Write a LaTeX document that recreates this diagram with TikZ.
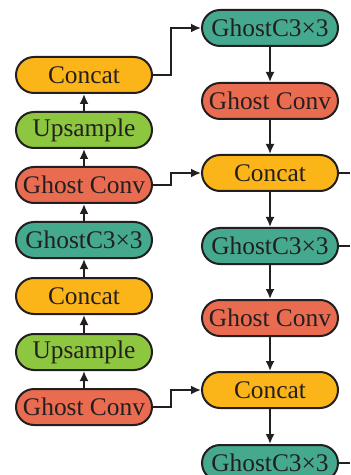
\documentclass[tikz,border=0pt]{standalone}
\usepackage{fontspec}
\setmainfont{Liberation Serif}
\usetikzlibrary{arrows.meta,positioning,calc}
\definecolor{concatcol}{HTML}{FBB519}
\definecolor{upcol}{HTML}{8DC63F}
\definecolor{convcol}{HTML}{E96C50}
\definecolor{c3col}{HTML}{45A98F}
\definecolor{inkcol}{HTML}{231F20}
\tikzset{
  blockbox/.style={draw=inkcol, line width=1pt, rounded corners=9pt, align=center, minimum width=68pt, minimum height=18pt, inner sep=0pt, text=inkcol, font=\fontsize{12.7}{14}\selectfont},
  concatbox/.style={blockbox, fill=concatcol},
  upbox/.style={blockbox, fill=upcol},
  convbox/.style={blockbox, fill=convcol},
  c3box/.style={blockbox, fill=c3col},
  flow/.style={-{Latex[length=5pt,width=4.5pt]}, line width=0.9pt, draw=inkcol},
  stub/.style={line width=0.9pt, draw=inkcol}
}

\begin{document}
\begin{tikzpicture}[x=0.5pt,y=-0.5pt]
\useasboundingbox (0,0) rectangle (350,475);
% left column (bottom to top)
\node[convbox] (lconv2) at (84,407) {Ghost Conv};
\node[upbox] (lup2) at (84,352) {Upsample};
\node[concatbox] (lcat2) at (84,296) {Concat};
\node[c3box] (lc3) at (84,240) {GhostC3\texttimes3};
\node[convbox] (lconv1) at (84,185) {Ghost Conv};
\node[upbox] (lup1) at (84,130) {Upsample};
\node[concatbox] (lcat1) at (84,75) {Concat};
% right column (top to bottom)
\node[c3box] (rc3a) at (270,28) {GhostC3\texttimes3};
\node[convbox] (rconv1) at (270,101) {Ghost Conv};
\node[concatbox] (rcat1) at (270,173) {Concat};
\node[c3box] (rc3b) at (270,246) {GhostC3\texttimes3};
\node[convbox] (rconv2) at (270,318) {Ghost Conv};
\node[concatbox] (rcat2) at (270,390) {Concat};
\node[c3box] (rc3c) at (270,463) {GhostC3\texttimes3};
% free ends on the right
\coordinate (outa) at (350,173);
\coordinate (outb) at (350,246);
\coordinate (outc) at (350,463);

\draw[flow] (lconv2) -- (lup2);
\draw[flow] (lup2) -- (lcat2);
\draw[flow] (lcat2) -- (lc3);
\draw[flow] (lc3) -- (lconv1);
\draw[flow] (lconv1) -- (lup1);
\draw[flow] (lup1) -- (lcat1);

\draw[flow] (rc3a) -- (rconv1);
\draw[flow] (rconv1) -- (rcat1);
\draw[flow] (rcat1) -- (rc3b);
\draw[flow] (rc3b) -- (rconv2);
\draw[flow] (rconv2) -- (rcat2);
\draw[flow] (rcat2) -- (rc3c);

\draw[flow] (lcat1.east) -- ++(18,0) |- (rc3a.west);
\draw[flow] (lconv1.east) -- ++(18,0) |- (rcat1.west);
\draw[flow] (lconv2.east) -- ++(18,0) |- (rcat2.west);

\draw[stub] (rcat1.east) -- (outa);
\draw[stub] (rc3b.east) -- (outb);
\draw[stub] (rc3c.east) -- (outc);
\end{tikzpicture}
\end{document}
